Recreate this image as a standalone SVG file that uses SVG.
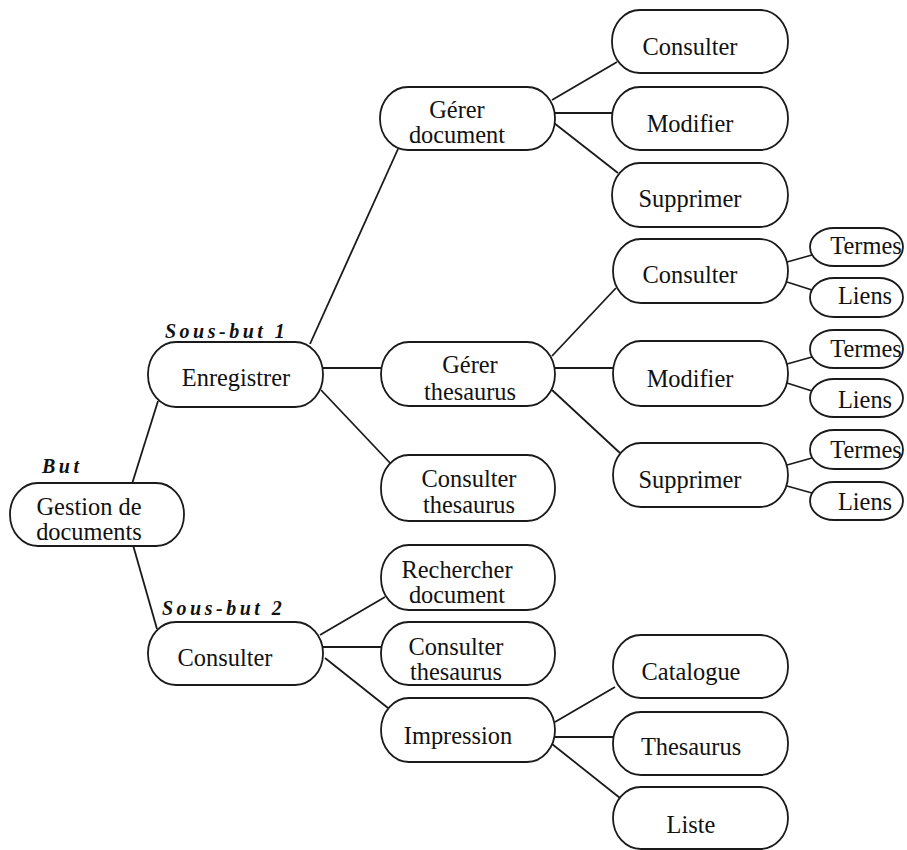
<svg xmlns="http://www.w3.org/2000/svg" width="907" height="850" viewBox="0 0 907 850">
<style>
.n{fill:#fff;stroke:#1a1a1a;stroke-width:1.8}
.c line{stroke:#1a1a1a;stroke-width:1.8}
.t{font-family:'Liberation Serif','Times New Roman',serif;font-size:24.4px;fill:#111;text-anchor:middle}
.l{font-family:'Liberation Serif','Times New Roman',serif;font-size:20px;font-weight:bold;font-style:italic;fill:#111;letter-spacing:3.5px}
</style>
<rect width="907" height="850" fill="#fff"/>
<g class="c" id="connectors">
<line x1="132" y1="484" x2="158" y2="401"/>
<line x1="133" y1="545" x2="157" y2="629"/>
<line x1="310" y1="344" x2="398" y2="149"/>
<line x1="323" y1="368" x2="381" y2="368"/>
<line x1="321" y1="390" x2="391" y2="464"/>
<line x1="552" y1="100" x2="617" y2="62"/>
<line x1="555" y1="113" x2="612" y2="113"/>
<line x1="554" y1="123" x2="618" y2="173"/>
<line x1="552" y1="356" x2="616" y2="288"/>
<line x1="555" y1="368" x2="613" y2="368"/>
<line x1="552" y1="390" x2="620" y2="453"/>
<line x1="320" y1="635" x2="385" y2="597"/>
<line x1="323" y1="647" x2="381" y2="647"/>
<line x1="325" y1="658" x2="388" y2="708"/>
<line x1="555" y1="722" x2="615" y2="687"/>
<line x1="555" y1="737" x2="613" y2="737"/>
<line x1="552" y1="744" x2="620" y2="798"/>
<line x1="787" y1="262" x2="812" y2="255"/>
<line x1="787" y1="282" x2="812" y2="290"/>
<line x1="787" y1="364" x2="812" y2="357"/>
<line x1="787" y1="383" x2="812" y2="391"/>
<line x1="787" y1="465" x2="812" y2="458"/>
<line x1="787" y1="486" x2="812" y2="493"/>
</g>
<text class="l" x="42" y="473">But</text>
<text class="l" x="165" y="338">Sous-but 1</text>
<text class="l" x="162" y="615">Sous-but 2</text>
<g id="gestion"><rect class="n" x="10" y="483" width="174" height="63" rx="28" ry="31"/><text class="t"><tspan x="89" y="515">Gestion de</tspan><tspan x="89" y="540">documents</tspan></text></g>
<g id="enregistrer"><rect class="n" x="148" y="342" width="175" height="65" rx="28" ry="32"/><text class="t" x="236" y="386">Enregistrer</text></g>
<g id="consulter-sb2"><rect class="n" x="148" y="622" width="175" height="63" rx="28" ry="31"/><text class="t" x="225" y="666">Consulter</text></g>
<g id="gerer-document"><rect class="n" x="380" y="87" width="175" height="63" rx="28" ry="31"/><text class="t"><tspan x="457" y="118">Gérer</tspan><tspan x="457" y="143">document</tspan></text></g>
<g id="gerer-thesaurus"><rect class="n" x="381" y="342" width="174" height="64" rx="28" ry="32"/><text class="t"><tspan x="470" y="373">Gérer</tspan><tspan x="470" y="400">thesaurus</tspan></text></g>
<g id="consulter-thesaurus-1"><rect class="n" x="381" y="455" width="174" height="66" rx="28" ry="32"/><text class="t"><tspan x="469" y="487">Consulter</tspan><tspan x="469" y="513">thesaurus</tspan></text></g>
<g id="rechercher-document"><rect class="n" x="381" y="545" width="174" height="65" rx="28" ry="32"/><text class="t"><tspan x="457" y="578">Rechercher</tspan><tspan x="457" y="603">document</tspan></text></g>
<g id="consulter-thesaurus-2"><rect class="n" x="381" y="622" width="174" height="63" rx="28" ry="31"/><text class="t"><tspan x="456" y="655">Consulter</tspan><tspan x="456" y="680">thesaurus</tspan></text></g>
<g id="impression"><rect class="n" x="381" y="698" width="174" height="64" rx="28" ry="32"/><text class="t" x="458" y="744">Impression</text></g>
<g id="doc-consulter"><rect class="n" x="612" y="10" width="176" height="63" rx="28" ry="31"/><text class="t" x="690" y="55">Consulter</text></g>
<g id="doc-modifier"><rect class="n" x="612" y="87" width="176" height="63" rx="28" ry="31"/><text class="t" x="690" y="132">Modifier</text></g>
<g id="doc-supprimer"><rect class="n" x="612" y="163" width="176" height="64" rx="28" ry="32"/><text class="t" x="690" y="207">Supprimer</text></g>
<g id="thes-consulter"><rect class="n" x="613" y="239" width="175" height="64" rx="28" ry="32"/><text class="t" x="690" y="283">Consulter</text></g>
<g id="thes-modifier"><rect class="n" x="613" y="341" width="175" height="65" rx="28" ry="32"/><text class="t" x="690" y="387">Modifier</text></g>
<g id="thes-supprimer"><rect class="n" x="613" y="443" width="175" height="64" rx="28" ry="32"/><text class="t" x="690" y="488">Supprimer</text></g>
<g id="catalogue"><rect class="n" x="613" y="635" width="175" height="63" rx="28" ry="31"/><text class="t" x="691" y="680">Catalogue</text></g>
<g id="thesaurus"><rect class="n" x="613" y="712" width="175" height="63" rx="28" ry="31"/><text class="t" x="691" y="755">Thesaurus</text></g>
<g id="liste"><rect class="n" x="613" y="787" width="175" height="62" rx="28" ry="31"/><text class="t" x="691" y="833">Liste</text></g>
<g id="termes-1"><rect class="n" x="810" y="228" width="93" height="38" rx="24" ry="19"/><text class="t" x="866" y="254">Termes</text></g>
<g id="liens-1"><rect class="n" x="810" y="278" width="93" height="39" rx="24" ry="19.5"/><text class="t" x="865" y="304">Liens</text></g>
<g id="termes-2"><rect class="n" x="810" y="330" width="93" height="38" rx="24" ry="19"/><text class="t" x="866" y="357">Termes</text></g>
<g id="liens-2"><rect class="n" x="810" y="379" width="93" height="38" rx="24" ry="19"/><text class="t" x="865" y="408">Liens</text></g>
<g id="termes-3"><rect class="n" x="810" y="430" width="93" height="39" rx="24" ry="19.5"/><text class="t" x="866" y="458">Termes</text></g>
<g id="liens-3"><rect class="n" x="810" y="482" width="93" height="38" rx="24" ry="19"/><text class="t" x="865" y="510">Liens</text></g>
</svg>
